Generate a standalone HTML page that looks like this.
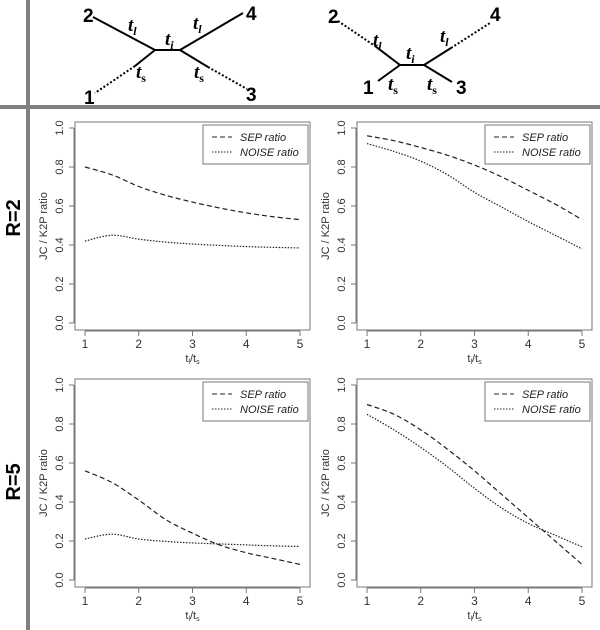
<!DOCTYPE html>
<html><head><meta charset="utf-8">
<style>
body{margin:0;background:#fff;}
svg{display:block;font-family:"Liberation Sans",sans-serif;}
</style></head>
<body>
<svg id="fig" width="600" height="630" viewBox="0 0 600 630">
<rect x="26" y="0" width="4" height="630" fill="#808080"/>
<rect x="0" y="105" width="600" height="4" fill="#808080"/>
<text transform="translate(20,218) rotate(-90)" text-anchor="middle" font-size="20" font-weight="bold">R=2</text>
<text transform="translate(20,482) rotate(-90)" text-anchor="middle" font-size="20" font-weight="bold">R=5</text>
<g stroke="#000" stroke-width="2" fill="none">
<line x1="93" y1="17" x2="155" y2="50"/><line x1="155" y1="50" x2="180" y2="50"/>
<line x1="180" y1="50" x2="243" y2="13"/>
<line x1="155" y1="50" x2="135" y2="66"/><line x1="135" y1="66" x2="95" y2="93" stroke-dasharray="2,2"/>
<line x1="180" y1="50" x2="208" y2="67"/><line x1="208" y1="67" x2="247" y2="89" stroke-dasharray="2,2"/>
</g>
<g stroke="#000" stroke-width="2" fill="none">
<line x1="338" y1="21" x2="375" y2="46" stroke-dasharray="2,2"/><line x1="375" y1="46" x2="400" y2="65"/>
<line x1="400" y1="65" x2="424" y2="65"/>
<line x1="424" y1="65" x2="451" y2="48"/><line x1="451" y1="48" x2="490" y2="23" stroke-dasharray="2,2"/>
<line x1="400" y1="65" x2="378" y2="81"/><line x1="424" y1="65" x2="452" y2="82"/>
</g>
<g font-weight="bold" font-size="19">
<text x="83" y="22">2</text><text x="246" y="20">4</text><text x="84" y="104">1</text><text x="246" y="101">3</text>
<text x="328" y="23">2</text><text x="490" y="21">4</text><text x="363" y="94">1</text><text x="456" y="94">3</text>
</g>
<g font-family="Liberation Serif,serif" font-style="italic" font-weight="bold" font-size="19">
<text x="128" y="31">t<tspan font-size="12" dy="4">l</tspan></text>
<text x="193" y="29">t<tspan font-size="12" dy="4">l</tspan></text>
<text x="165" y="45">t<tspan font-size="12" dy="4">i</tspan></text>
<text x="136" y="78">t<tspan font-size="12" dy="4" font-style="normal">s</tspan></text>
<text x="194" y="78">t<tspan font-size="12" dy="4" font-style="normal">s</tspan></text>
<text x="373" y="46">t<tspan font-size="12" dy="4">l</tspan></text>
<text x="440" y="42">t<tspan font-size="12" dy="4">l</tspan></text>
<text x="406" y="59">t<tspan font-size="12" dy="4">i</tspan></text>
<text x="388" y="90">t<tspan font-size="12" dy="4" font-style="normal">s</tspan></text>
<text x="427" y="90">t<tspan font-size="12" dy="4" font-style="normal">s</tspan></text>
</g>
</svg>
<script>
const xVals=[1,1.5,2,2.5,3,3.5,4,4.5,5];
const sepA=[0.80,0.76,0.70,0.655,0.62,0.59,0.565,0.545,0.53];
const noiseA=[0.42,0.45,0.43,0.415,0.405,0.398,0.392,0.388,0.385];
const sepB=[0.96,0.935,0.90,0.86,0.81,0.75,0.68,0.61,0.53];
const noiseB=[0.92,0.88,0.83,0.76,0.67,0.595,0.52,0.45,0.38];
const sepC=[0.56,0.50,0.41,0.31,0.24,0.18,0.14,0.11,0.08];
const noiseC=[0.21,0.235,0.21,0.198,0.19,0.185,0.18,0.175,0.172];
const sepD=[0.90,0.85,0.77,0.67,0.56,0.44,0.32,0.20,0.08];
const noiseD=[0.85,0.77,0.68,0.58,0.47,0.37,0.29,0.23,0.17];
const xTicks=[1,2,3,4,5];
const yTicks=["0.0","0.2","0.4","0.6","0.8","1.0"];
const NS="http://www.w3.org/2000/svg";
const svg=document.getElementById('fig');
function mk(t,a,p){const e=document.createElementNS(NS,t);for(const k in a)e.setAttribute(k,a[k]);(p||svg).appendChild(e);return e;}
function panel(name,bx,by,sep,noise){
  const g=mk('g',{});
  
  
  const L=bx,R=bx+235,T=by,B=by+208;
  const xs=v=>L+10+(v-1)*(R-L-20)/4;
  const ys=v=>B-7-v*(B-T-13);
  const box=mk('rect',{x:L,y:T,width:R-L,height:B-T,fill:'none',stroke:'#777','stroke-width':1},g);
  
  
  mk('line',{x1:xs(1),x2:xs(5),y1:B+1,y2:B+1,stroke:'#777'},g);
  xTicks.forEach(t=>{mk('line',{x1:xs(t),x2:xs(t),y1:B+1,y2:B+6,stroke:'#777'},g);
    const tx=mk('text',{x:xs(t),y:B+18,'text-anchor':'middle','font-size':12,fill:'#333'},g);tx.textContent=t;
    });
  mk('line',{x1:L-1,x2:L-1,y1:ys(0),y2:ys(1),stroke:'#777'},g);
  yTicks.forEach(t=>{const v=parseFloat(t);mk('line',{x1:L-6,x2:L-1,y1:ys(v),y2:ys(v),stroke:'#777'},g);
    const tx=mk('text',{transform:`translate(${L-12},${ys(v)}) rotate(-90)`,'text-anchor':'middle','font-size':11,fill:'#333'},g);tx.textContent=t;
    });
  const yl=mk('text',{transform:`translate(${L-28},${(T+B)/2}) rotate(-90)`,'text-anchor':'middle','font-size':11,fill:'#333'},g);
  yl.textContent='JC / K2P ratio';
  
  const xl=mk('text',{x:xs(3),y:B+32,'text-anchor':'middle','font-size':11,fill:'#333'},g);
  xl.innerHTML='t<tspan font-size="7" dy="2">l</tspan><tspan dy="-2">/t</tspan><tspan font-size="7" dy="2">s</tspan>';
  
  function curve(vals,dash,nm){
    const pts=xVals.map((x,i)=>[xs(x),ys(vals[i])]);
    let d='M'+pts[0][0]+','+pts[0][1];
    for(let i=0;i<pts.length-1;i++){const p0=pts[Math.max(i-1,0)],p1=pts[i],p2=pts[i+1],p3=pts[Math.min(i+2,pts.length-1)];
      d+=` C${p1[0]+(p2[0]-p0[0])/6},${p1[1]+(p2[1]-p0[1])/6} ${p2[0]-(p3[0]-p1[0])/6},${p2[1]-(p3[1]-p1[1])/6} ${p2[0]},${p2[1]}`;}
    const p=mk('path',{d:d,fill:'none',stroke:'#222','stroke-width':1.2,'stroke-dasharray':dash},g);
    
  }
  curve(sep,'5,3','sep-ratio-line');
  curve(noise,'1.5,1.5','noise-ratio-line');
  const lg=mk('g',{},g);
  
  mk('rect',{x:R-107,y:T+3,width:105,height:39,fill:'#fff',stroke:'#777'},lg);
  mk('line',{x1:R-98,x2:R-78,y1:T+15,y2:T+15,stroke:'#222','stroke-dasharray':'5,3'},lg);
  mk('line',{x1:R-98,x2:R-78,y1:T+30,y2:T+30,stroke:'#222','stroke-dasharray':'1.5,1.5'},lg);
  const a=mk('text',{x:R-70,y:T+19,'font-size':11,'font-style':'italic',fill:'#222'},lg);a.textContent='SEP ratio';
  
  const b=mk('text',{x:R-70,y:T+34,'font-size':11,'font-style':'italic',fill:'#222'},lg);b.textContent='NOISE ratio';
  
}
panel('panel-r2-left',75,122,sepA,noiseA);
panel('panel-r2-right',357,122,sepB,noiseB);
panel('panel-r5-left',75,379,sepC,noiseC);
panel('panel-r5-right',357,379,sepD,noiseD);
</script>
</body></html>
